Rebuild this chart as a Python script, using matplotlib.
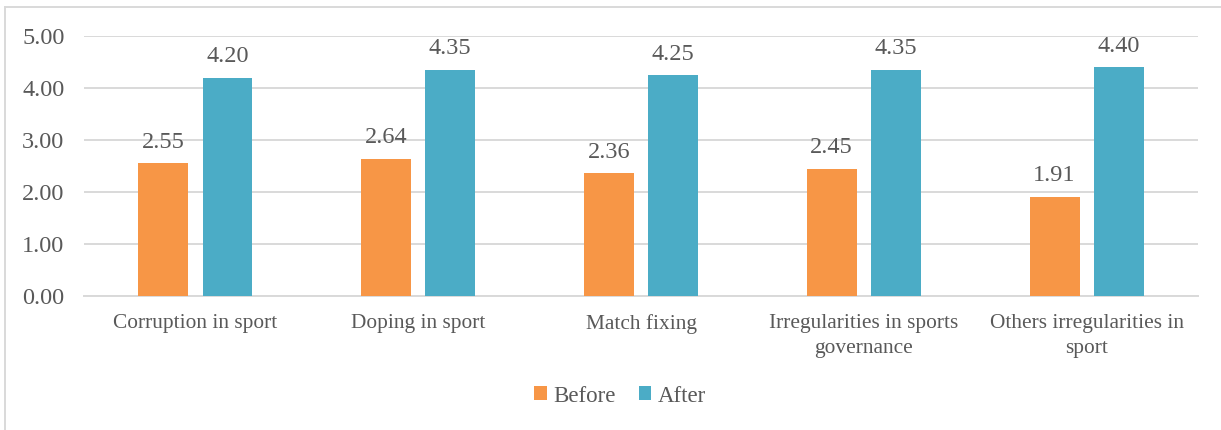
import matplotlib
matplotlib.use("Agg")
import matplotlib.pyplot as plt
from matplotlib.lines import Line2D
import numpy as np

# survey scores before and after, per issue
categories = ["Corruption in sport", "Doping in sport", "Match fixing",
              "Irregularities in sports\ngovernance", "Others irregularities in\nsport"]
before = [2.55, 2.64, 2.36, 2.45, 1.91]
after = [4.20, 4.35, 4.25, 4.35, 4.40]

orange = "#F79646"
teal = "#4BACC6"
grey_text = "#595959"
grid_col = "#D9D9D9"

plt.rcParams["font.family"] = ["Liberation Serif", "DejaVu Serif"]

fig = plt.figure(figsize=(12.21, 4.30), dpi=100)
ax = fig.add_axes([0.0688, 0.3116, 0.9124, 0.6047])

x = np.arange(len(categories))
w = 0.224
off = 0.144
b1 = ax.bar(x - off, before, w, color=orange, label="Before", zorder=3)
b2 = ax.bar(x + off, after, w, color=teal, label="After", zorder=3)

for bars, vals in ((b1, before), (b2, after)):
    for rect, v in zip(bars, vals):
        ax.annotate("%.2f" % v, (rect.get_x() + rect.get_width() / 2, v),
                    xytext=(0, 7.5), textcoords="offset points",
                    ha="center", va="bottom", fontsize=17.5, color=grey_text)

ax.set_xlim(-0.5, len(categories) - 0.5)
ax.set_ylim(0, 5)
ax.set_yticks(np.arange(0, 5.01, 1))
ax.set_yticklabels(["%.2f" % t for t in np.arange(0, 5.01, 1)], fontsize=17.5)
ax.set_xticks(x)
ax.set_xticklabels(categories, fontsize=15.4, linespacing=1.4)
ax.tick_params(axis="both", length=0, labelcolor=grey_text)
ax.tick_params(axis="y", pad=14)
ax.tick_params(axis="x", pad=13)
ax.grid(axis="y", color=grid_col, linewidth=1.4, zorder=0)
for s in ["top", "right", "left"]:
    ax.spines[s].set_visible(False)
ax.spines["bottom"].set_color(grid_col)
ax.spines["bottom"].set_linewidth(1.4)

leg = fig.legend(loc="center", bbox_to_anchor=(0.508, 1 - 396 / 430), ncol=2,
                 frameon=False, fontsize=16.5, handlelength=0.55, handleheight=0.55,
                 handletextpad=0.3, columnspacing=1.0)
for t in leg.get_texts():
    t.set_color(grey_text)

# chart frame (top and left edges)
fig.add_artist(Line2D([5 / 1221, 5 / 1221], [0, 1 - 7 / 430], transform=fig.transFigure,
                      color=grid_col, linewidth=1.4))
fig.add_artist(Line2D([5 / 1221, 1], [1 - 7 / 430, 1 - 7 / 430], transform=fig.transFigure,
                      color=grid_col, linewidth=1.4))

fig.savefig("out.png", dpi=100)
